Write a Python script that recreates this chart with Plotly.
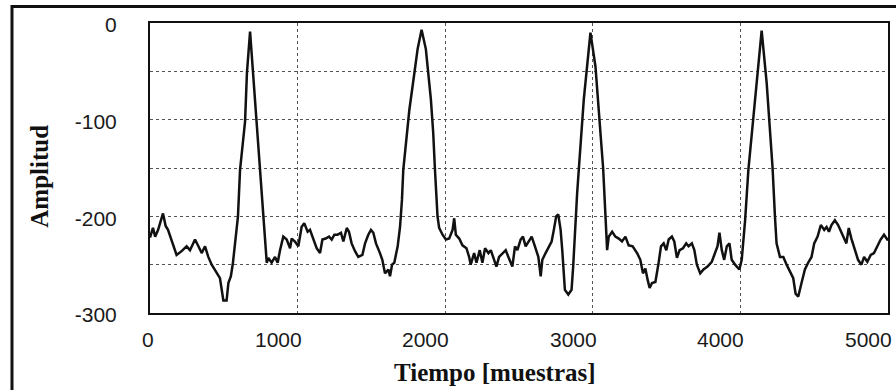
import plotly.graph_objects as go

# Sample index (Tiempo [muestras]) and amplitude
tiempo = [0, 20, 35, 55, 88, 106, 122, 147, 180, 214, 248, 271, 305, 328, 350, 373, 395, 418, 452, 474,
          486, 497, 519, 531, 548, 562, 596, 610, 644, 657, 678, 698, 718, 745, 766, 791,
          802, 824, 847, 865, 881, 903, 926, 949, 960, 982, 1005, 1027, 1045, 1068, 1084, 1107, 1129,
          1152, 1168, 1190, 1213, 1231, 1249, 1271, 1294, 1310, 1333, 1348, 1366, 1389, 1411, 1439,
          1457, 1479, 1497, 1513, 1531, 1558, 1574, 1592, 1615, 1626, 1640, 1655, 1678, 1694, 1707,
          1716, 1757, 1791, 1813, 1840, 1869, 1903, 1919, 1930, 1948, 1959, 1982, 2005, 2027, 2050,
          2061, 2072, 2095, 2117, 2144, 2162, 2173, 2196, 2212, 2234, 2252, 2270, 2293, 2309, 2331,
          2347, 2365, 2387, 2410, 2428, 2444, 2455, 2473, 2489, 2511, 2527, 2545, 2563, 2586, 2608,
          2631, 2647, 2658, 2680, 2703, 2721, 2736, 2752, 2766, 2782, 2793, 2800, 2811, 2834, 2856,
          2867, 2878, 2894, 2910, 2939, 2984, 3018, 3052, 3070, 3086, 3097, 3108, 3131, 3153, 3176,
          3198, 3221, 3243, 3270, 3300, 3322, 3340, 3356, 3372, 3385, 3401, 3424, 3446, 3462, 3480,
          3498, 3514, 3536, 3552, 3570, 3588, 3611, 3633, 3649, 3671, 3688, 3705, 3728, 3750, 3777,
          3806, 3829, 3845, 3858, 3874, 3890, 3908, 3926, 3941, 3964, 3993, 4009, 4032, 4054, 4099,
          4144, 4178, 4201, 4218, 4234, 4245, 4268, 4291, 4313, 4336, 4358, 4374, 4392, 4414, 4437,
          4459, 4482, 4500, 4523, 4545, 4568, 4584, 4600, 4617, 4640, 4662, 4685, 4703, 4718, 4734,
          4752, 4775, 4797, 4820, 4838, 4860, 4883, 4905, 4928, 4950, 4973, 4989, 5000]
amplitud = [-222, -212, -221, -214, -197, -210, -214, -226, -240, -236, -231, -235, -224, -231, -238, -231, -242, -250, -259, -264,
            -276, -287, -287, -269, -262, -248, -200, -152, -102, -51, -9, -51, -102, -152, -200, -248,
            -243, -248, -242, -248, -235, -221, -224, -233, -223, -226, -231, -211, -207, -216, -214, -224, -233,
            -238, -224, -223, -221, -224, -219, -219, -217, -226, -212, -216, -228, -236, -242, -240,
            -228, -219, -214, -217, -228, -238, -245, -259, -255, -262, -250, -248, -231, -211, -183,
            -152, -90, -52, -27, -7, -27, -79, -114, -150, -200, -212, -219, -224, -223, -214,
            -202, -219, -223, -230, -233, -242, -250, -238, -248, -235, -248, -233, -238, -235, -245,
            -252, -242, -238, -235, -242, -248, -252, -231, -235, -224, -221, -231, -226, -221, -231,
            -242, -262, -245, -238, -231, -226, -214, -200, -198, -214, -235, -255, -276, -281, -276,
            -252, -217, -176, -141, -79, -10, -45, -114, -150, -200, -235, -221, -216, -221, -223,
            -226, -221, -230, -231, -238, -245, -259, -254, -266, -274, -269, -268, -248, -231, -228,
            -235, -224, -221, -226, -243, -235, -233, -228, -231, -228, -235, -250, -259, -255, -252,
            -247, -238, -231, -217, -235, -245, -231, -228, -245, -250, -255, -245, -204, -152, -79,
            -8, -62, -114, -150, -200, -228, -242, -242, -250, -257, -264, -280, -283, -269, -255,
            -248, -242, -228, -221, -209, -214, -211, -216, -209, -204, -209, -216, -223, -228, -212,
            -223, -235, -245, -250, -242, -247, -240, -238, -231, -224, -219, -223, -225]

x_ticks = [0, 1000, 2000, 3000, 4000, 5000]
x_tick_labels = ["0", "1000", "2000", "3000", "4000", "5000"]
y_ticks = [0, -100, -200, -300]
y_tick_labels = ["0", "-100", "-200", "-300"]

SERIF = "Liberation Serif, Times New Roman, serif"
SANS = "Liberation Sans, Arial, sans-serif"

fig = go.Figure()
fig.add_trace(go.Scatter(x=tiempo, y=amplitud, mode="lines",
                         line=dict(color="#111111", width=2.5), showlegend=False))

grid = dict(gridcolor="#555555", gridwidth=1.1, griddash="dot")

fig.update_xaxes(range=[0, 5000], tickvals=x_ticks, ticktext=[""] * len(x_ticks),
                 showticklabels=False, ticks="", showline=True, mirror=True,
                 linecolor="#111111", linewidth=2, zeroline=False, showgrid=True, **grid)
fig.update_yaxes(range=[-300, 0], tickvals=y_ticks, ticktext=y_tick_labels, ticks="",
                 showline=True, mirror=True, linecolor="#111111", linewidth=2, zeroline=False,
                 showgrid=True, **grid,
                 minor=dict(dtick=50, tick0=0, showgrid=True, gridcolor="#555555",
                            gridwidth=1.1, griddash="dot", ticks=""),
                 tickfont=dict(family=SANS, size=21, color="#1a1a1a"),
                 ticklabelstandoff=27, ticklabelshift=2)

annotations = []
for v, t in zip(x_ticks, x_tick_labels):
    annotations.append(dict(x=v, y=-0.093, xref="x", yref="paper", text=t, showarrow=False,
                            xanchor="right", yanchor="middle", xshift=6,
                            font=dict(family=SANS, size=21, color="#1a1a1a")))
annotations.append(dict(x=0.467, y=-0.204, xref="paper", yref="paper",
                        text="<b>Tiempo [muestras]</b>", showarrow=False,
                        xanchor="center", yanchor="middle",
                        font=dict(family=SERIF, size=25, color="#111111")))
annotations.append(dict(x=-0.149, y=0.47, xref="paper", yref="paper",
                        text="<b>Amplitud</b>", showarrow=False, textangle=-90,
                        xanchor="center", yanchor="middle",
                        font=dict(family=SERIF, size=25, color="#111111")))

fig.update_layout(
    width=896, height=390,
    margin=dict(l=150, r=6, t=23, b=77),
    paper_bgcolor="white", plot_bgcolor="white",
    annotations=annotations,
    shapes=[dict(type="path", xref="paper", yref="paper",
                 path="M -0.187 -0.35 L -0.187 1.057 L 1.02 1.057",
                 line=dict(color="#111111", width=3))],
)

fig.write_html("out.html")
